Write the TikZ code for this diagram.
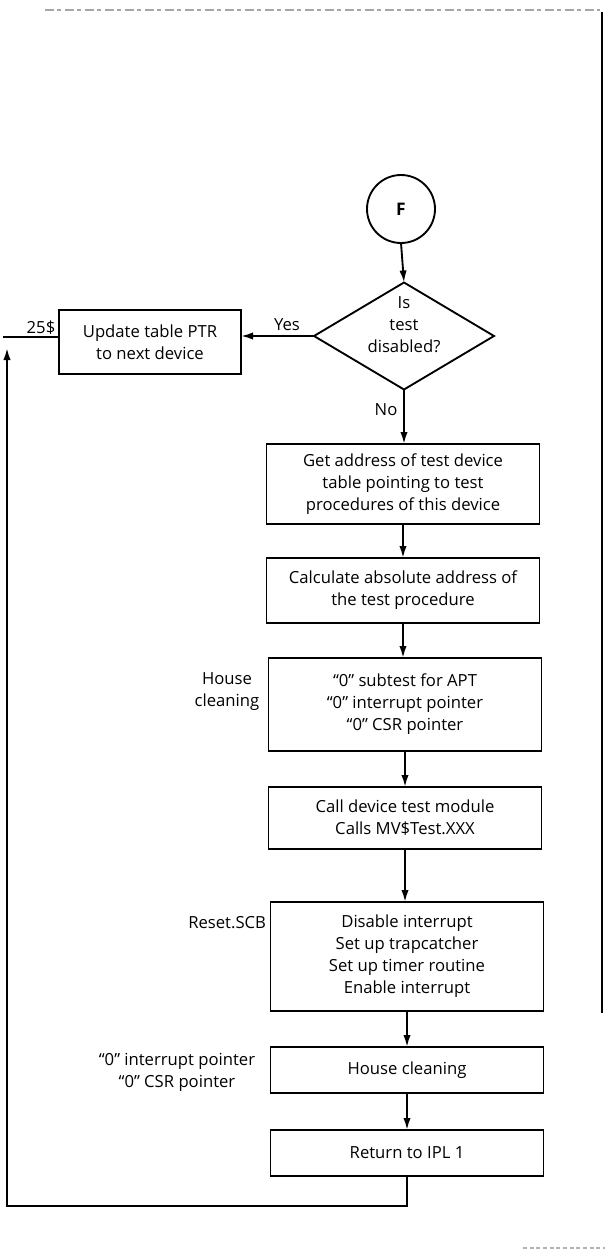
\documentclass[tikz,border=0pt]{standalone}
\usepackage{fontspec}
\setmainfont{Open Sans}
\usetikzlibrary{shapes.geometric,arrows.meta}

\begin{document}
\begin{tikzpicture}[x=0.75pt,y=-0.75pt,
  font=\fontsize{12.5pt}{16.5pt}\selectfont,
  every node/.style={inner sep=0pt, outer sep=0pt},
  box/.style={draw, line width=1.4pt, minimum width=273*0.75pt, align=center, minimum height=#1*0.75pt},
  flow/.style={line width=1.4pt, -{Latex[length=9pt,width=5.5pt]}},
  plain/.style={line width=1.4pt},
  lbl/.style={align=center},
  edge/.style={line width=1.2pt},
]
\useasboundingbox (0,0) rectangle (605,1250);

% sheet edges
\draw[gray!70, line width=0.9pt, dash pattern=on 7pt off 2pt on 3pt off 3pt] (45,10) -- (600,10);
\draw[edge] (602,12) -- (602,1013);
\draw[gray!60, line width=0.9pt, dash pattern=on 3pt off 2pt] (523,1248) -- (605,1248);

% start connector
\node[draw, circle, line width=1.4pt, minimum size=68*0.75pt, font=\fontsize{13pt}{15pt}\selectfont\bfseries] (F) at (401,209) {F};

% decision
\node[draw, diamond, line width=1.4pt, minimum width=180*0.75pt, minimum height=107*0.75pt] (dia) at (404,336) {};
\node[lbl] (diat) at (404,325) {Is\\test\\disabled?};

% process boxes
\node[box=64, minimum width=182*0.75pt] (upd) at (150,342) {Update table PTR\\to next device};
\node[box=80] (b1) at (403,484) {Get address of test device\\table pointing to test\\procedures of this device};
\node[box=65] (b2) at (403,590.5) {Calculate absolute address of\\the test procedure};
\node[box=93] (b3) at (405,704.5) {“0” subtest for APT\\“0” interrupt pointer\\“0” CSR pointer};
\node[box=62] (b4) at (405,818) {Call device test module\\Calls MV\$Test.XXX};
\node[box=109] (b5) at (407,956.5) {Disable interrupt\\Set up trapcatcher\\Set up timer routine\\Enable interrupt};
\node[box=46] (b6) at (407,1070) {House cleaning};
\node[box=46] (b7) at (407,1153) {Return to IPL 1};

% side notes
\node[lbl] (yes) at (287,325) {Yes};
\node[lbl] (no) at (386,410) {No};
\node[lbl] (l25) at (41,328) {25\$};
\node[lbl] (hc) at (227,692) {House\\cleaning};
\node[anchor=east] (rst) at (266,923) {Reset.SCB};
\node[lbl] (zp) at (177,1072) {“0” interrupt pointer\\“0” CSR pointer};

% loop corners
\coordinate (e25) at (3,337);
\coordinate (lb) at (7,1206);
\coordinate (lt) at (7,348);

% connectors
\draw[flow] (F.south) -- (dia.north);
\draw[flow] (dia.west) -- (dia.west -| upd.east);
\draw[plain] (upd.west |- e25) -- (e25);
\draw[flow] (dia.south) -- (dia.south |- b1.north);
\draw[flow] (b1.south) -- (b1.south |- b2.north);
\draw[flow] (b2.south) -- (b2.south |- b3.north);
\draw[flow] (b3.south) -- (b3.south |- b4.north);
\draw[flow] (b4.south) -- (b4.south |- b5.north);
\draw[flow] (b5.south) -- (b5.south |- b6.north);
\draw[flow] (b6.south) -- (b6.south |- b7.north);
\draw[flow] (b7.south) |- (lb) -- (lt);
\end{tikzpicture}
\end{document}
